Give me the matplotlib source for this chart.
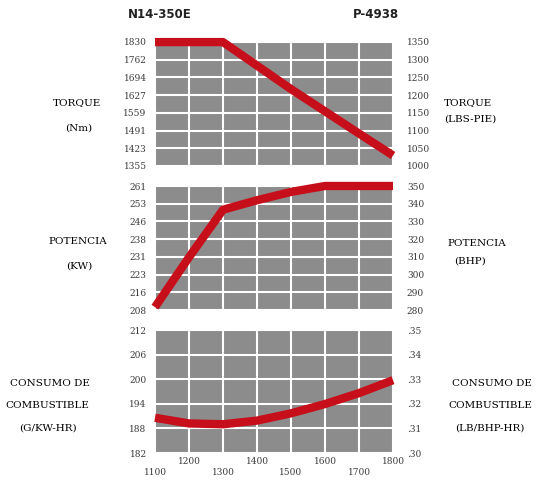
import numpy as np
import matplotlib
matplotlib.use("Agg")
import matplotlib.pyplot as plt

# data (rpm on x)
rpm = [1100, 1200, 1300, 1400, 1500, 1600, 1700, 1800]
torque_nm = [1830, 1830, 1830, 1740, 1650, 1565, 1480, 1396]
power_kw = [210, 231, 251, 255, 258.5, 261, 261, 261]
fuel_gkwh = [191.2, 189.8, 189.6, 190.5, 192.3, 194.6, 197.3, 200.5]

# axis scales: right hand units, left hand labels
torque_lbft = [1000, 1050, 1100, 1150, 1200, 1250, 1300, 1350]
torque_nm_labels = ["1355", "1423", "1491", "1559", "1627", "1694", "1762", "1830"]
power_hp = [280, 290, 300, 310, 320, 330, 340, 350]
power_kw_labels = ["208", "216", "223", "231", "238", "246", "253", "261"]
fuel_lb = [0.30, 0.31, 0.32, 0.33, 0.34, 0.35]
fuel_g_labels = ["182", "188", "194", "200", "206", "212"]
fuel_lb_labels = [".30", ".31", ".32", ".33", ".34", ".35"]
x_low = [1100, 1300, 1500, 1700]
x_high = [1200, 1400, 1600, 1800]

RED = "#c70f1b"
GRAY = "#8c8c8c"
W, H = 540, 487
SERIF = "DejaVu Serif"
TICK = "#3a3a3a"

fig = plt.figure(figsize=(W / 100, H / 100), dpi=100)


def panel(top, bot, ticks, left_labels, right_labels):
    ax = fig.add_axes([155 / W, 1 - bot / H, (393 - 155) / W, (bot - top) / H])
    ax.set_facecolor(GRAY)
    ax.set_xlim(1100, 1800)
    ax.set_ylim(ticks[0], ticks[-1])
    ax.set_xticks(x_low)
    ax.set_xticks(x_high, minor=True)
    ax.set_yticks(ticks)
    ax.set_yticklabels(left_labels, fontsize=6.5, family=SERIF, color=TICK)
    ax.grid(True, which="both", color="white", linewidth=1.5)
    ax.set_axisbelow(True)
    for s in ax.spines.values():
        s.set_visible(False)
    ax.tick_params(which="both", length=0)
    ax.tick_params(axis="y", pad=6)
    ax.tick_params(axis="x", which="both", labelbottom=False)
    ax2 = ax.twinx()
    ax2.set_ylim(ticks[0], ticks[-1])
    ax2.set_yticks(ticks)
    ax2.set_yticklabels(right_labels, fontsize=6.5, family=SERIF, color=TICK)
    ax2.tick_params(length=0, pad=10)
    for s in ax2.spines.values():
        s.set_visible(False)
    return ax


# torque
t_ticks = [v * 1.3558 for v in torque_lbft]
ax1 = panel(42, 166, t_ticks, torque_nm_labels, [str(v) for v in torque_lbft])
ax1.plot(rpm, torque_nm, color=RED, lw=6, solid_capstyle="butt", clip_on=False, zorder=5)

# power
p_ticks = [v * 0.7457 for v in power_hp]
ax2 = panel(186, 310, p_ticks, power_kw_labels, [str(v) for v in power_hp])
ax2.plot(rpm, power_kw, color=RED, lw=6, solid_capstyle="butt", clip_on=False, zorder=5)

# fuel consumption
f_ticks = [v * 608.3 for v in fuel_lb]
ax3 = panel(330, 453, f_ticks, fuel_g_labels, fuel_lb_labels)
ax3.plot(rpm, fuel_gkwh, color=RED, lw=6, solid_capstyle="butt", clip_on=False, zorder=5)
ax3.tick_params(axis="x", which="major", labelbottom=True, pad=11, labelsize=6.5, labelcolor=TICK)
ax3.tick_params(axis="x", which="minor", labelbottom=True, pad=3, labelsize=6.5, labelcolor=TICK)
ax3.set_xticklabels([str(v) for v in x_low], family=SERIF)
ax3.set_xticklabels([str(v) for v in x_high], minor=True, family=SERIF)

# headers
fig.text(160 / W, 1 - 15 / H, "N14-350E", ha="center", va="center", fontsize=8.5,
         fontweight="bold", family="DejaVu Sans", color="#222222")
fig.text(376 / W, 1 - 15 / H, "P-4938", ha="center", va="center", fontsize=8.5,
         fontweight="bold", family="DejaVu Sans", color="#222222")

# side captions
side = [
    (77, 103, "TORQUE"), (79, 128, "(Nm)"),
    (468, 103, "TORQUE"), (470, 119, "(LBS-PIE)"),
    (78, 242, "POTENCIA"), (79, 266, "(KW)"),
    (477, 243, "POTENCIA"), (470, 261, "(BHP)"),
    (50, 383, "CONSUMO DE"), (47, 405, "COMBUSTIBLE"), (48, 428, "(G/KW-HR)"),
    (492, 383, "CONSUMO DE"), (490, 405, "COMBUSTIBLE"), (490, 428, "(LB/BHP-HR)"),
]
for x, y, s in side:
    fig.text(x / W, 1 - y / H, s, ha="center", va="center", fontsize=7.5, family=SERIF)

fig.savefig("out.png", dpi=100)
